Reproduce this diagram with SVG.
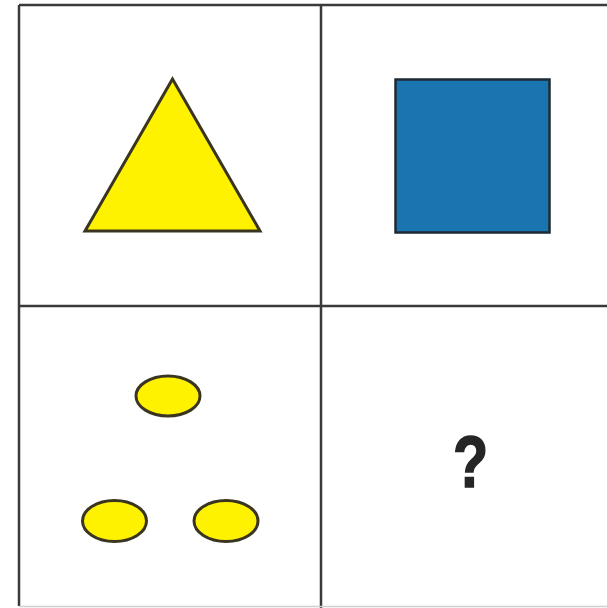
<svg xmlns="http://www.w3.org/2000/svg" width="607" height="608" viewBox="0 0 607 608">
<style>
.grid{stroke:#3a3a3a;stroke-width:2.5;fill:none}
.yel{fill:#fff200;stroke:#3a3520;stroke-width:3}
.blue{fill:#1a74b0;stroke:#1f2a33;stroke-width:2.5}
.q{font-family:"Liberation Sans","DejaVu Sans",sans-serif;font-weight:bold;font-size:72px;fill:#262626;stroke:#262626;stroke-width:1.6}
</style>
<rect width="607" height="608" fill="#ffffff"/>
<g id="grid">
<line class="grid" x1="19" y1="5" x2="607" y2="5"/>
<line class="grid" x1="19" y1="5" x2="19" y2="606"/>
<line class="grid" x1="321" y1="5" x2="321" y2="608"/>
<line class="grid" x1="19" y1="306" x2="607" y2="306"/>
<line x1="19" y1="606.5" x2="607" y2="606.5" stroke="#d0d0d0" stroke-width="1.5"/>
</g>
<g id="triangle">
<polygon class="yel" points="172.5,79 85,231 260,231"/>
</g>
<g id="square">
<rect class="blue" x="395.5" y="79.5" width="154" height="153"/>
</g>
<g id="ovals">
<ellipse class="yel" cx="168" cy="396" rx="32" ry="20"/>
<ellipse class="yel" cx="114.5" cy="521" rx="32" ry="20.5"/>
<ellipse class="yel" cx="226" cy="521" rx="32" ry="20.5"/>
</g>
<g id="question">
<text class="q" x="0" y="0" text-anchor="middle" transform="translate(470.5 486.5) scale(0.8 1)">?</text>
</g>
</svg>
